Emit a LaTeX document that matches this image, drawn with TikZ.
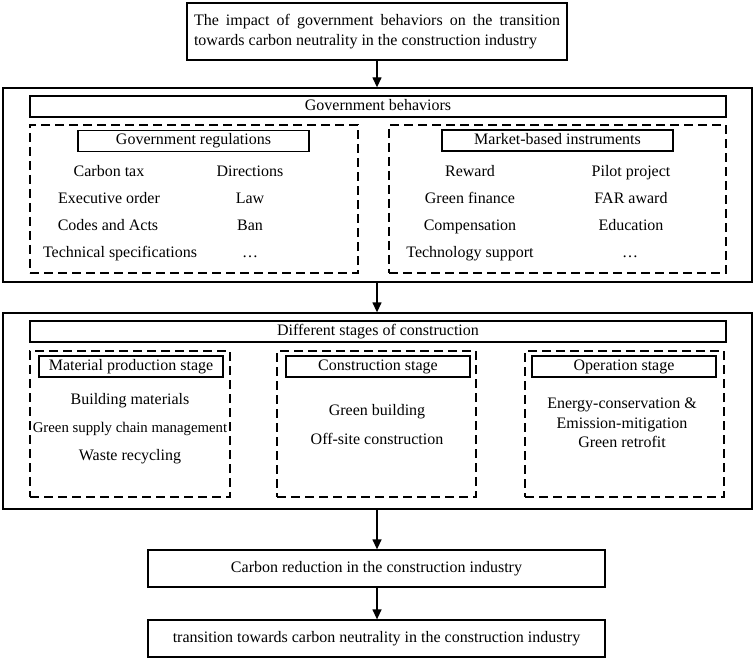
\documentclass[tikz,border=0pt]{standalone}
\usepackage{fontspec}
\setmainfont{Liberation Serif}
\usetikzlibrary{arrows.meta,positioning,calc}

\begin{document}
\begin{tikzpicture}[x=1pt, y=-1pt,
    every node/.style={font=\fontsize{16}{20}\selectfont, inner sep=0pt},
    item/.style={text height=11pt, text depth=3.5pt},
    box/.style={draw, line width=1.3pt, minimum height=21pt, item},
    dashbox/.style={draw, line width=1.3pt, dash pattern=on 9pt off 5pt},
    arr/.style={line width=1.3pt, -{Triangle[width=9pt,length=10pt]}}]
    \useasboundingbox (0,0) rectangle (754,660);

    \node[box, minimum width=380pt, minimum height=57pt, text width=366pt,
          align=justify, text height=, text depth=] (title) at (377,31.5)
        {The impact of government behaviors on the transition\linebreak towards carbon neutrality in the construction industry};

    \begin{scope}
        \node[draw, line width=1.3pt, minimum width=749pt, minimum height=194pt] (govbeh) at (377.5,185) {};
        \node[box, minimum width=696pt] (govbar) at (378,106.5) {Government behaviors};

        \node[dashbox, minimum width=328pt, minimum height=148pt] (regbox) at (194,199) {};
        \node[box, minimum width=231pt] (govreg) at (193.5,141) {Government regulations};
        \node[item] (ctax) at (109,173) {Carbon tax};
        \node[item] (exord) at (109,200) {Executive order};
        \node[item] (codes) at (108,227) {Codes and Acts};
        \node[item] (techspec) at (120,254) {Technical specifications};
        \node[item] (direct) at (250,173) {Directions};
        \node[item] (law) at (250,200) {Law};
        \node[item] (ban) at (250,227) {Ban};
        \node[item] (regdots) at (250,254) {\ldots};

        \node[dashbox, minimum width=337pt, minimum height=148pt] (mktbox) at (557.5,199) {};
        \node[box, minimum width=231pt] (market) at (557.5,140.5) {Market-based instruments};
        \node[item] (reward) at (470,173) {Reward};
        \node[item] (gfin) at (470,200) {Green finance};
        \node[item] (comp) at (470,227) {Compensation};
        \node[item] (techsup) at (470,254) {Technology support};
        \node[item] (pilot) at (631,173) {Pilot project};
        \node[item] (far) at (631,200) {FAR award};
        \node[item] (edu) at (631,227) {Education};
        \node[item] (mktdots) at (630,254) {\ldots};
    \end{scope}

    \begin{scope}
        \node[draw, line width=1.3pt, minimum width=749pt, minimum height=196pt] (stages) at (377.5,411) {};
        \node[box, minimum width=696pt] (stagebar) at (378,331.5) {Different stages of construction};

        \node[dashbox, minimum width=200pt, minimum height=146pt] (matbox) at (130,424) {};
        \node[box, minimum width=184pt] (matstage) at (131,366.5) {Material production stage};
        \node[item] (bmat) at (130,401) {Building materials};
        \node[item] (gscm) at (130,429) {\fontsize{14.8}{18}\selectfont Green supply chain management};
        \node[item] (waste) at (130,457) {Waste recycling};

        \node[dashbox, minimum width=199pt, minimum height=146pt] (conbox) at (376.5,424) {};
        \node[box, minimum width=184pt] (constage) at (378,366.5) {Construction stage};
        \node[item] (gbuild) at (377,412) {Green building};
        \node[item] (offsite) at (377,441) {Off-site construction};

        \node[dashbox, minimum width=199pt, minimum height=146pt] (opbox) at (624.5,424) {};
        \node[box, minimum width=184pt] (opstage) at (624,366.5) {Operation stage};
        \node[align=center, font=\fontsize{16}{19.5}\selectfont] (energy) at (622,423)
            {Energy-conservation \&\\Emission-mitigation\\Green retrofit};
    \end{scope}

    \node[draw, line width=1.3pt, minimum width=457pt, minimum height=37pt, item] (reduce) at (376.5,568.5)
        {Carbon reduction in the construction industry};
    \node[draw, line width=1.3pt, minimum width=457pt, minimum height=37pt, item] (neutral) at (376.5,638.5)
        {transition towards carbon neutrality in the construction industry};

    \draw[arr] (title.south) -- (title.south |- govbeh.north);
    \draw[arr] (title.south |- govbeh.south) -- (title.south |- stages.north);
    \draw[arr] (title.south |- stages.south) -- (title.south |- reduce.north);
    \draw[arr] (title.south |- reduce.south) -- (title.south |- neutral.north);
\end{tikzpicture}
\end{document}
